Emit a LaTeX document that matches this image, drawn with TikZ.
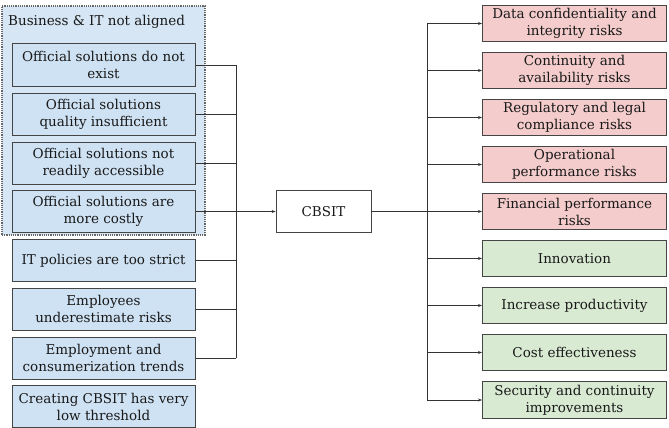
\documentclass[tikz,border=0pt]{standalone}
\usepackage{fontspec}
\setmainfont{DejaVu Serif}
\usetikzlibrary{arrows.meta}
\definecolor{bluef}{HTML}{CFE2F3}
\definecolor{groupf}{HTML}{D6E6F4}
\definecolor{pinkf}{HTML}{F4CCCC}
\definecolor{greenf}{HTML}{D9EAD3}
\definecolor{edge}{HTML}{454545}
\begin{document}
\begin{tikzpicture}[x=1pt,y=-1pt,
  every node/.style={font=\fontsize{13.5}{17}\selectfont, text=black!90},
  lbox/.style={draw=edge, line width=1pt, fill=bluef, minimum width=183pt, minimum height=42pt, align=center, inner sep=1pt},
  rbox/.style={draw=edge, line width=1pt, minimum width=184pt, minimum height=36.5pt, align=center, inner sep=1pt},
  risk/.style={rbox, fill=pinkf},
  gain/.style={rbox, fill=greenf},
  conn/.style={draw=black!80, line width=0.8pt},
  arr/.style={conn, -{Stealth[length=4pt,width=3pt]}}
]
\useasboundingbox (0,0) rectangle (669,428);
\node[draw=gray!80!black, densely dotted, line width=1.2pt, fill=groupf, minimum width=203pt, minimum height=229pt, inner sep=0pt] (grp) at (103.5,120.5) {};
\node[anchor=west, inner sep=0pt] (gl) at (8,22) {Business \& IT not aligned};

\node[lbox] (l1) at (103.5,65) {Official solutions do not\\exist};
\node[lbox] (l2) at (103.5,114) {Official solutions\\quality insufficient};
\node[lbox] (l3) at (103.5,163) {Official solutions not\\readily accessible};
\node[lbox] (l4) at (103.5,211.5) {Official solutions are\\more costly};
\node[lbox] (l5) at (103.5,260.5) {IT policies are too strict};
\node[lbox] (l6) at (103.5,309) {Employees\\underestimate risks};
\node[lbox] (l7) at (103.5,358) {Employment and\\consumerization trends};
\node[lbox] (l8) at (103.5,406.5) {Creating CBSIT has very\\low threshold};

\node[draw=edge, line width=0.8pt, fill=white, minimum width=95pt, minimum height=42pt] (c) at (323.5,211.5) {CBSIT};

\coordinate (lb) at (236,211.5);
\foreach \i in {1,...,7} {
  \draw[conn] (l\i.east) -- (l\i.east -| lb);
}
\draw[conn] (l1.east -| lb) -- (l7.east -| lb);
\draw[arr] (lb) -- (c.west);

\node[risk] (r1) at (574.5,23.5) {Data confidentiality and\\integrity risks};
\node[risk] (r2) at (574.5,70.5) {Continuity and\\availability risks};
\node[risk] (r3) at (574.5,117.5) {Regulatory and legal\\compliance risks};
\node[risk] (r4) at (574.5,164.5) {Operational\\performance risks};
\node[risk] (r5) at (574.5,211.5) {Financial performance\\risks};
\node[gain] (r6) at (574.5,258.5) {Innovation};
\node[gain] (r7) at (574.5,305.5) {Increase productivity};
\node[gain] (r8) at (574.5,352.5) {Cost effectiveness};
\node[gain] (r9) at (574.5,400) {Security and continuity\\improvements};

\coordinate (rb) at (427,211.5);
\draw[conn] (c.east) -- (rb);
\draw[conn] (r1.west -| rb) -- (r9.west -| rb);
\foreach \i in {1,...,9} {
  \draw[arr] (r\i.west -| rb) -- (r\i.west);
}
\end{tikzpicture}
\end{document}
